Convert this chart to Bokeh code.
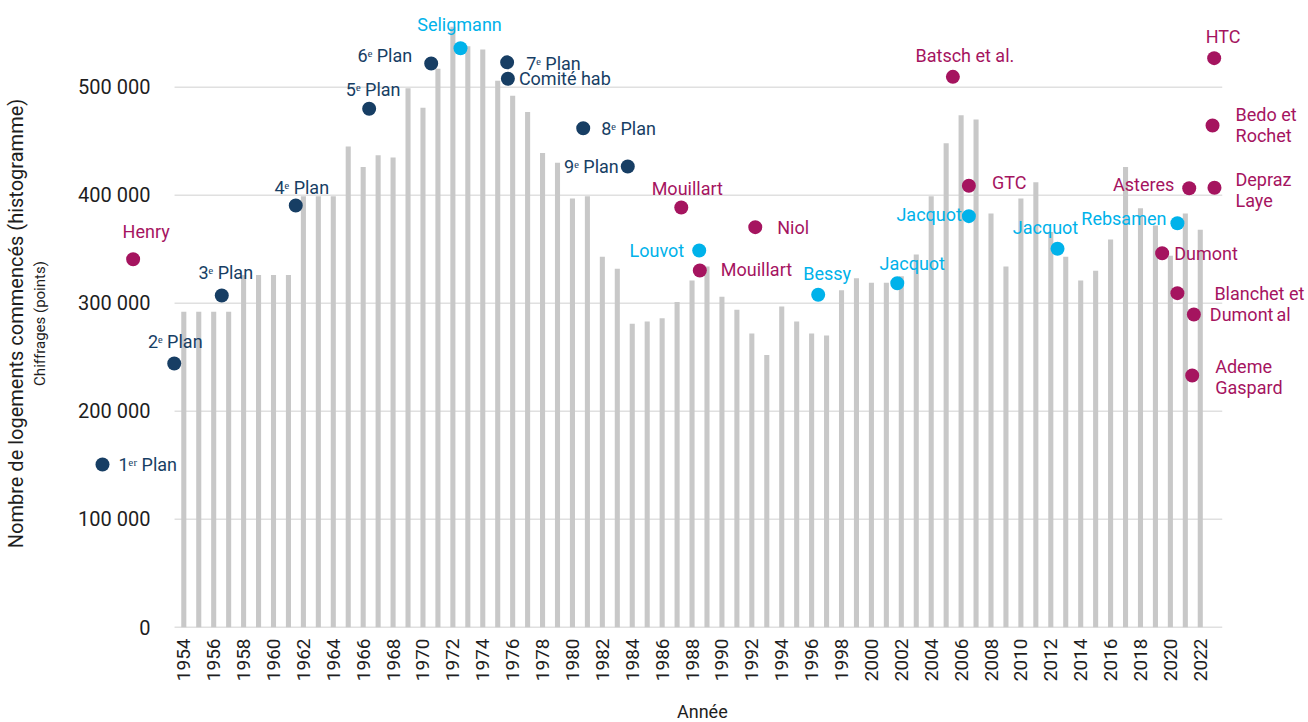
import math
from bokeh.plotting import figure
from bokeh.models import ColumnDataSource, Range1d, FixedTicker, LinearAxis
from bokeh.core.properties import value
from bokeh.embed import file_html
from bokeh.resources import INLINE

# ---------------- data ----------------
years = list(range(1954, 2023))
logements_commences = [
    292000, 292000, 292000, 292000, 326000, 326000, 326000, 326000,   # 1954-1961
    399000, 399000, 399000, 445000, 426000, 437000, 435000, 499000,   # 1962-1969
    481000, 517000, 556000, 538000, 535000, 506000, 492000, 477000,   # 1970-1977
    439000, 430000, 397000, 399000, 343000, 332000, 281000, 283000,   # 1978-1985
    286000, 301000, 321000, 334000, 306000, 294000, 272000, 252000,   # 1986-1993
    297000, 283000, 272000, 270000, 312000, 323000, 319000, 319000,   # 1994-2001
    325000, 345000, 399000, 448000, 474000, 470000, 383000, 334000,   # 2002-2009
    397000, 412000, 366000, 343000, 321000, 330000, 359000, 426000,   # 2010-2017
    388000, 372000, 344000, 383000, 368000,                           # 2018-2022
]

y_ticks = [0, 100000, 200000, 300000, 400000, 500000]
y_tick_labels = ["0", "100 000", "200 000", "300 000", "400 000", "500 000"]
x_ticks = list(range(1954, 2023, 2))

chiffrage_labels = [
    "1ᵉʳ Plan", "2ᵉ Plan", "3ᵉ Plan", "4ᵉ Plan", "5ᵉ Plan", "6ᵉ Plan",
    "7ᵉ Plan", "Comité hab", "8ᵉ Plan", "9ᵉ Plan",
    "Seligmann", "Louvot", "Bessy", "Jacquot", "Jacquot", "Jacquot", "Rebsamen",
    "Henry", "Mouillart", "Mouillart", "Niol", "Batsch et al.", "GTC", "Asteres",
    "Depraz\nLaye", "HTC", "Bedo et\nRochet", "Dumont", "Blanchet et", "Dumont",
    "Ademe\nGaspard",
]
chiffrage_annee = [
    1948.56, 1953.36, 1956.54, 1961.49, 1966.40, 1970.55,
    1975.63, 1975.68, 1980.72, 1983.70,
    1972.51, 1988.48, 1996.44, 2001.73, 2006.52, 2012.45, 2020.47,
    1950.61, 1987.28, 1988.52, 1992.23, 2005.45, 2006.52, 2021.26,
    2022.95, 2022.93, 2022.82, 2019.45, 2020.47, 2021.57,
    2021.46,
]
chiffrage_valeur = [
    150600, 244200, 307100, 390500, 480000, 522000,
    523000, 507800, 462000, 426600,
    536000, 348800, 307800, 318500, 380600, 350400, 374000,
    340700, 388600, 330300, 370400, 509600, 408700, 406500,
    406900, 526900, 464500, 346300, 309300, 289500,
    233000,
]
chiffrage_groupe = (["plan"] * 10 + ["public"] * 7 + ["autre"] * 14)

# ---------------- styling ----------------
colors = {"plan": "#173e64", "public": "#00b2ea", "autre": "#a5145f"}
label_align = [
    "left", "center", "center", "center", "center", "right",
    "left", "left", "left", "right",
    "center", "right", "center", "center", "right", "center", "right",
    "center", "center", "left", "left", "center", "left", "right",
    "left", "center", "left", "left", "left", "left",
    "left",
]
label_dx = [16, 1, 4, 6, 4, -19, 19, 11, 18, -9,
            -1, -15, 9, 15, -7, -12, -11,
            13, 6, 21, 22, 12, 23, -15, 21, 9, 23, 12, 37, 16, 23]
label_dy = [0, -22, -23, -18, -19, -8, 1, 0, 0, 0,
            -24, 0, -21, -20, -2, -21, -5,
            -28, -19, -1, 0, -21, -3, -4, 2, -22, -1, 0, 0, 0, 1]

FONT = "Roboto"
TEXT_DARK = "#1e1e1e"
GRID = "#e0e0e0"

p = figure(
    frame_width=1248, frame_height=626,
    x_range=Range1d(1945.751, 2029.24),
    y_range=Range1d(-8611, 571019),
    output_backend="svg", toolbar_location=None,
    min_border_left=60, min_border_right=0, min_border_top=10, min_border_bottom=0,
)
p.outline_line_color = None
p.xgrid.visible = False
p.ygrid.visible = False
p.background_fill_color = "white"
p.border_fill_color = "white"

# gridlines limited to the bar area
gx0 = 1953.38
gx1 = 2023.47
p.segment(x0=[gx0] * len(y_ticks), x1=[gx1] * len(y_ticks), y0=y_ticks, y1=y_ticks,
          line_color=GRID, line_width=1.6)

# bars
bars = ColumnDataSource(dict(x=years, top=logements_commences))
p.vbar(x="x", top="top", bottom=0, width=0.34, source=bars,
       fill_color="#c8c8c8", line_color=None)

# y tick labels (inside the frame, as in the reference)
p.text(x=[1951.77] * len(y_ticks), y=y_ticks, text=y_tick_labels,
       text_align="right", text_baseline="middle",
       text_font=value(FONT), text_font_size="20px", text_color=TEXT_DARK)

# points
pt_colors = [colors[g] for g in chiffrage_groupe]
pts = ColumnDataSource(dict(x=chiffrage_annee, y=chiffrage_valeur, c=pt_colors))
p.scatter(x="x", y="y", size=14, fill_color="c", line_color=None, source=pts)

# point labels, grouped by alignment
for align in ["left", "center", "right"]:
    idx = [i for i, a in enumerate(label_align) if a == align]
    src = ColumnDataSource(dict(
        x=[chiffrage_annee[i] for i in idx],
        y=[chiffrage_valeur[i] for i in idx],
        t=[chiffrage_labels[i] for i in idx],
        c=[pt_colors[i] for i in idx],
        dx=[label_dx[i] for i in idx],
        dy=[label_dy[i] for i in idx],
    ))
    p.text(x="x", y="y", text="t", x_offset="dx", y_offset="dy", text_color="c",
           text_align=align, text_baseline="middle", text_line_height=1.0,
           text_font=value(FONT), text_font_size="18px", source=src)

# continuation of "Blanchet et al" label
bi = 28
p.text(x=[chiffrage_annee[bi]], y=[chiffrage_valeur[bi]], text=["al"],
       x_offset=99, y_offset=21, text_color=colors["autre"],
       text_align="left", text_baseline="middle",
       text_font=value(FONT), text_font_size="18px")

# x axis
xa = p.xaxis[0]
xa.ticker = FixedTicker(ticks=x_ticks)
xa.major_label_orientation = math.pi / 2
xa.axis_line_color = None
xa.major_tick_line_color = None
xa.minor_tick_line_color = None
xa.major_tick_out = 0
xa.major_tick_in = 0
xa.major_label_standoff = 2
xa.major_label_text_font = FONT
xa.major_label_text_font_size = "19px"
xa.major_label_text_color = TEXT_DARK
xa.axis_label = "\u00a0" * 8 + "Année"
xa.axis_label_text_font = FONT
xa.axis_label_text_font_size = "18px"
xa.axis_label_text_font_style = "normal"
xa.axis_label_text_color = TEXT_DARK
xa.axis_label_standoff = 17

# y axes: titles only
ya = p.yaxis[0]
ya.ticker = FixedTicker(ticks=[])
ya.axis_line_color = None
ya.major_tick_line_color = None
ya.minor_tick_line_color = None
ya.major_label_text_font_size = "0px"
ya.major_tick_out = 0
ya.major_label_standoff = 0
ya.axis_label = "Chiffrages (points)"
ya.axis_label_text_font = FONT
ya.axis_label_text_font_size = "15px"
ya.axis_label_text_font_style = "normal"
ya.axis_label_text_color = TEXT_DARK
ya.axis_label_standoff = 12

ya2 = LinearAxis(ticker=FixedTicker(ticks=[]), axis_line_color=None,
                 major_tick_line_color=None, minor_tick_line_color=None,
                 major_label_text_font_size="0px", major_tick_out=0,
                 major_label_standoff=0,
                 axis_label="Nombre de logements commencés (histogramme)",
                 axis_label_text_font=FONT, axis_label_text_font_size="20px",
                 axis_label_text_font_style="normal",
                 axis_label_text_color=TEXT_DARK, axis_label_standoff=0)
p.add_layout(ya2, "left")

open("out.html", "w").write(file_html(p, INLINE))
